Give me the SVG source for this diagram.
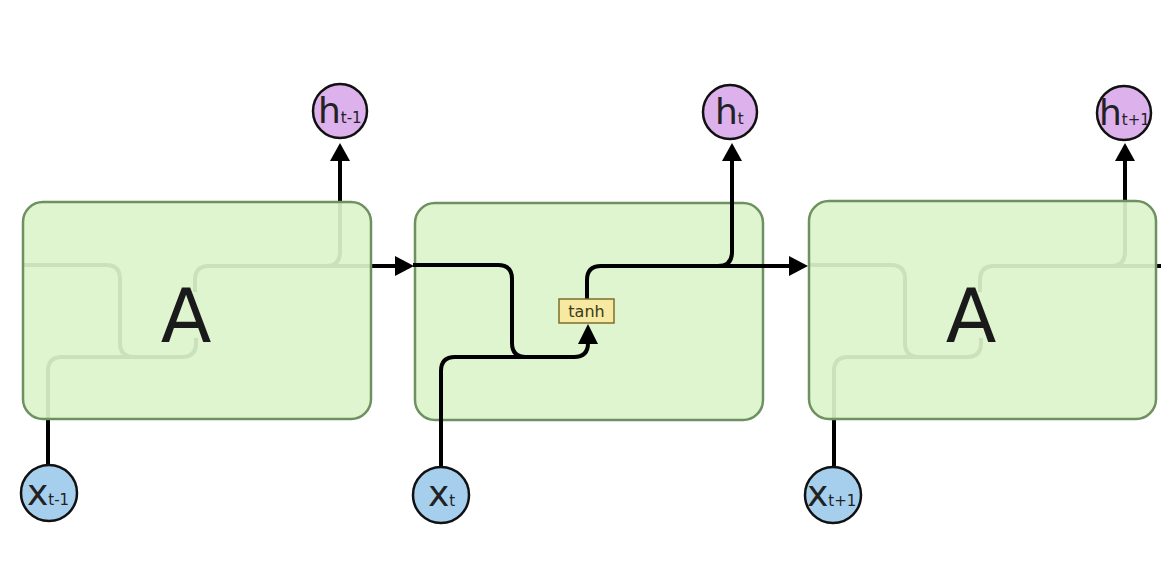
<svg xmlns="http://www.w3.org/2000/svg" width="1161" height="567" viewBox="0 0 1161 567">
<style>
.box{fill:#dcf4cb;fill-opacity:0.92;stroke:#6e9160;stroke-width:2.5}
.box2{fill:#dff5d0;stroke:#6e9160;stroke-width:2.5}
.ln{fill:none;stroke:#000;stroke-width:4;stroke-linecap:butt}
.ah{fill:#000}
.hc{fill:#dcb1ec;stroke:#111;stroke-width:2.5}
.xc{fill:#a6cfee;stroke:#111;stroke-width:2.5}
.big{font-family:"DejaVu Sans",sans-serif;font-size:36px;fill:#222}
.sub{font-size:15px}
.A{font-family:"DejaVu Sans",sans-serif;font-size:74px;fill:#1a1a1a;text-anchor:middle}
</style>
<rect width="1161" height="567" fill="#fff"/>
<g id="cell2">
<rect class="box2" x="415" y="203" width="348" height="217" rx="20"/>
</g>
<g id="connectors">
<path class="ln" d="M23,265 H106 Q120,265 120,279 V343 Q120,357 134,357 H182 Q196,357 196,343 V338"/>
<path class="ln" d="M48,465 V371 Q48,357 62,357 H182"/>
<path class="ln" d="M195,292 V280 Q195,266 209,266 H396"/>
<path class="ln" d="M326,266 Q340,266 340,252 V160"/>
<polygon class="ah" points="340,143 330,161 350,161"/>
<polygon class="ah" points="414,266 395,256 395,276"/>
<path class="ln" d="M413,265 H498 Q512,265 512,279 V343 Q512,357 526,357 H574 Q588,357 588,343 V340"/>
<path class="ln" d="M441,467 V371 Q441,357 455,357 H574"/>
<path class="ln" d="M587,299 V280 Q587,266 601,266 H790"/>
<path class="ln" d="M718,266 Q732,266 732,252 V160"/>
<polygon class="ah" points="588,324 578,344 598,344"/>
<polygon class="ah" points="732,143 722,161 742,161"/>
<polygon class="ah" points="808,266 789,256 789,276"/>
<path class="ln" d="M809,265 H891 Q905,265 905,279 V343 Q905,357 919,357 H967 Q981,357 981,343 V338"/>
<path class="ln" d="M834,467 V371 Q834,357 848,357 H967"/>
<path class="ln" d="M980,292 V280 Q980,266 994,266 H1161"/>
<path class="ln" d="M1111,266 Q1125,266 1125,252 V160"/>
<polygon class="ah" points="1125,143 1115,161 1135,161"/>
</g>
<g id="tanh">
<rect x="559" y="299" width="55" height="24" fill="#f7e8a2" stroke="#7c6e2c" stroke-width="1.5"/>
<text x="586.5" y="316.5" font-family="DejaVu Sans, sans-serif" font-size="16" fill="#3a3a1a" text-anchor="middle">tanh</text>
</g>
<g id="cell1">
<rect class="box" x="23" y="202" width="348" height="217" rx="20"/>
<text class="A" x="186" y="342">A</text>
</g>
<g id="cell3">
<rect class="box" x="809" y="201" width="347" height="218" rx="20"/>
<text class="A" x="971" y="342">A</text>
</g>
<g id="h_tm1">
<circle class="hc" cx="340" cy="111" r="27"/>
<text class="big" x="318" y="123">h<tspan class="sub">t-1</tspan></text>
</g>
<g id="h_t">
<circle class="hc" cx="730" cy="112" r="27"/>
<text class="big" x="715" y="124">h<tspan class="sub">t</tspan></text>
</g>
<g id="h_tp1">
<circle class="hc" cx="1124" cy="113" r="27"/>
<text class="big" x="1099" y="125">h<tspan class="sub">t+1</tspan></text>
</g>
<g id="x_tm1">
<circle class="xc" cx="49" cy="493" r="28"/>
<text class="big" x="27" y="505">x<tspan class="sub">t-1</tspan></text>
</g>
<g id="x_t">
<circle class="xc" cx="441" cy="495" r="28"/>
<text class="big" x="428" y="506">x<tspan class="sub">t</tspan></text>
</g>
<g id="x_tp1">
<circle class="xc" cx="833" cy="495" r="28"/>
<text class="big" x="807" y="506">x<tspan class="sub">t+1</tspan></text>
</g>
</svg>
